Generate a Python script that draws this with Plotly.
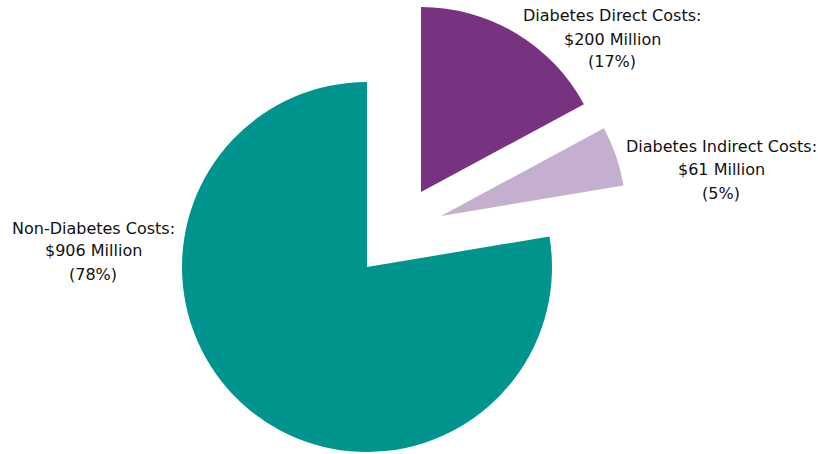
import plotly.graph_objects as go

# ---- data ----
categories = ["Diabetes Direct Costs", "Diabetes Indirect Costs", "Non-Diabetes Costs"]
costs_millions = [200, 61, 906]
percent_labels = [17, 5, 78]

# ---- style / layout ----
colors = ["#77337F", "#C4AFCF", "#00948F"]
W, H = 818, 454
R = 185
# pixel centers of each (exploded) slice's pie
centers_px = [(421, 192), (441, 216), (367, 267)]
# label line centers (x, [y1, y2, y3]) in pixels
label_pos = [(612, [15, 39, 62]), (721, [146, 169, 193]), (93, [228, 251, 274])]

fig = go.Figure()
for i, (cx, cy) in enumerate(centers_px):
    cols = ["rgba(0,0,0,0)"] * len(categories)
    cols[i] = colors[i]
    fig.add_trace(go.Pie(
        labels=categories,
        values=costs_millions,
        sort=False,
        direction="clockwise",
        rotation=0,
        textinfo="none",
        hoverinfo="label+value+percent",
        marker=dict(colors=cols, line=dict(width=0)),
        domain=dict(x=[(cx - R) / W, (cx + R) / W],
                    y=[1 - (cy + R) / H, 1 - (cy - R) / H]),
        showlegend=False,
    ))

font = dict(family="DejaVu Sans, Verdana, sans-serif", size=16, color="#111111")
for i, name in enumerate(categories):
    lines = [f"{name}:", f"${costs_millions[i]} Million", f"({percent_labels[i]}%)"]
    x, ys = label_pos[i]
    for line, y in zip(lines, ys):
        fig.add_annotation(text=line, x=x / W, y=1 - y / H, xref="paper", yref="paper",
                           xanchor="center", yanchor="middle", showarrow=False, font=font)

fig.update_layout(width=W, height=H, margin=dict(l=0, r=0, t=0, b=0),
                  paper_bgcolor="white", plot_bgcolor="white")
fig.write_html("out.html", config={"displayModeBar": False},
               post_script="document.body.style.margin='0';document.body.style.overflow='hidden';")
